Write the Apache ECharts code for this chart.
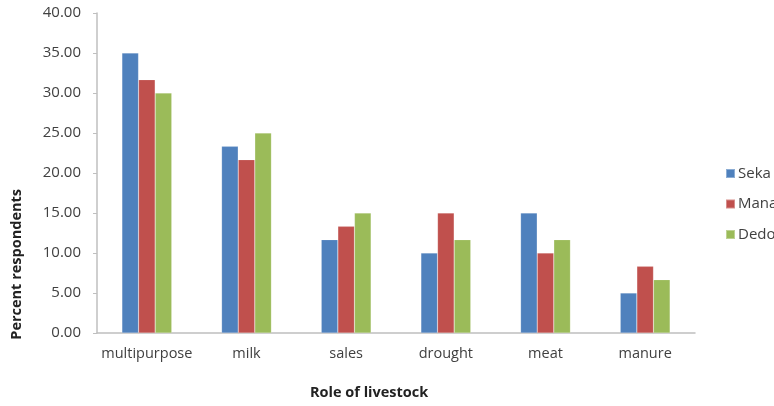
<!DOCTYPE html>
<html>
<head>
<meta charset="utf-8">
<script src="https://cdn.jsdelivr.net/npm/echarts@6/dist/echarts.min.js"></script>
<style>
html,body{margin:0;padding:0;background:#fff;}
#chart{width:774px;height:406px;}
</style>
</head>
<body>
<div id="chart"></div>
<script>
const categories = ['multipurpose', 'milk', 'sales', 'drought', 'meat', 'manure'];
const seka = [35.00, 23.33, 11.67, 10.00, 15.00, 5.00];
const mana = [31.67, 21.67, 13.33, 15.00, 10.00, 8.33];
const dedo = [30.00, 25.00, 15.00, 11.67, 11.67, 6.67];
const seriesNames = ['Seka', 'Mana', 'Dedo'];
const colors = ['#4F81BD', '#C0504D', '#9BBB59'];
const yTicks = { min: 0, max: 40, interval: 5 };

const font = 'Open Sans';
const chart = echarts.init(document.getElementById('chart'));
const mk = (name, data, color) => ({
  name, type: 'bar', data,
  barGap: '0%', barCategoryGap: '50%',
  itemStyle: { color, borderColor: 'rgba(255,255,255,0.35)', borderWidth: 0.5 },
  animation: false
});
chart.setOption({
  animation: false,
  textStyle: { fontFamily: font },
  grid: { left: 97, right: 79, top: 13, bottom: 73, containLabel: false },
  legend: {
    orient: 'vertical', left: 720, top: 161,
    itemWidth: 9, itemHeight: 9, itemGap: 15.5,
    icon: 'rect',
    textStyle: { fontSize: 15, color: '#404040', fontFamily: font, padding: [0, 0, 0, -2] },
    data: seriesNames
  },
  xAxis: {
    type: 'category', data: categories,
    axisLine: { lineStyle: { color: '#BFBFBF', width: 1.5 } },
    axisTick: { show: false },
    axisLabel: { interval: 0, fontSize: 14.5, color: '#404040', margin: 13, fontFamily: font },
    splitLine: { show: false }
  },
  yAxis: {
    type: 'value', min: yTicks.min, max: yTicks.max, interval: yTicks.interval,
    axisLine: { show: true, lineStyle: { color: '#BFBFBF', width: 1.5 } },
    axisTick: { show: true, length: 4, lineStyle: { color: '#BFBFBF' } },
    axisLabel: { fontSize: 15, color: '#404040', margin: 16, fontFamily: font,
      formatter: v => v.toFixed(2) },
    splitLine: { show: false }
  },
  graphic: [
    { type: 'text', left: 9, top: 189, rotation: Math.PI / 2,
      style: { text: 'Percent respondents', font: 'bold 14.5px "Open Sans"', fill: '#222' } },
    { type: 'text', left: 310, top: 385,
      style: { text: 'Role of livestock', font: 'bold 14.5px "Open Sans"', fill: '#222' } }
  ],
  series: [mk(seriesNames[0], seka, colors[0]), mk(seriesNames[1], mana, colors[1]), mk(seriesNames[2], dedo, colors[2])]
});
</script>
</body>
</html>
